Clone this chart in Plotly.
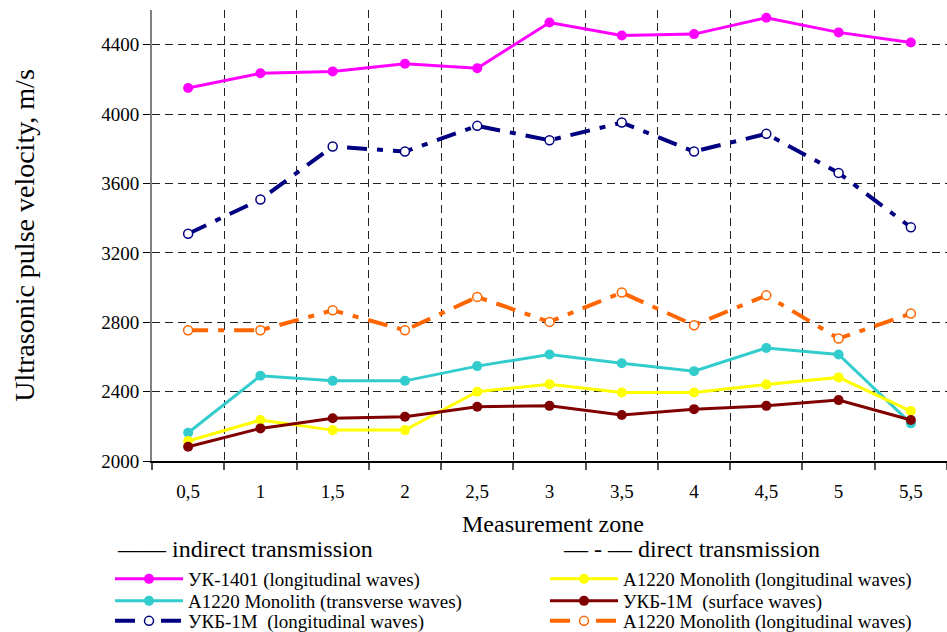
import plotly.graph_objects as go

zones = ["0,5", "1", "1,5", "2", "2,5", "3", "3,5", "4", "4,5", "5", "5,5"]

uk1401_long = [4150, 4235, 4246, 4290, 4264, 4528, 4453, 4461, 4555, 4471, 4413]
a1220_trans = [2163, 2491, 2462, 2462, 2547, 2614, 2564, 2518, 2652, 2614, 2217]
ukb1m_long = [3310, 3508, 3813, 3784, 3932, 3849, 3951, 3784, 3886, 3661, 3347]
a1220_long = [2115, 2236, 2178, 2178, 2399, 2443, 2395, 2395, 2441, 2482, 2288]
ukb1m_surf = [2082, 2188, 2246, 2255, 2313, 2318, 2265, 2299, 2318, 2351, 2236]
a1220_long_direct = [2754, 2754, 2869, 2754, 2946, 2802, 2971, 2783, 2955, 2706, 2850]

yticks = [2000, 2400, 2800, 3200, 3600, 4000, 4400]

FONT = "Liberation Serif"
DASH = "20px,10px,6px,10px"

series = [
    # name, values, color, direct?, legend
    ("УК-1401 (longitudinal waves)", uk1401_long, "#FF00FF", False, "legend"),
    ("A1220 Monolith (transverse waves)", a1220_trans, "#33CCCC", False, "legend2"),
    ("УКБ-1М  (longitudinal waves)", ukb1m_long, "#000080", True, "legend3"),
    ("A1220 Monolith (longitudinal waves)", a1220_long, "#FFFF00", False, "legend4"),
    ("УКБ-1М  (surface waves)", ukb1m_surf, "#800000", False, "legend5"),
    ("A1220 Monolith (longitudinal waves)", a1220_long_direct, "#FF6600", True, "legend6"),
]

fig = go.Figure()
for name, vals, col, direct, lg in series:
    if direct:
        line = dict(color=col, width=4, dash=DASH)
        marker = dict(symbol="circle", size=9, color="white", line=dict(color=col, width=1.5))
    else:
        line = dict(color=col, width=3)
        marker = dict(symbol="circle", size=10, color=col, line=dict(width=0))
    fig.add_trace(go.Scatter(x=zones, y=vals, name=name, mode="lines+markers",
                             line=line, marker=marker, legend=lg, showlegend=True))

H = 451.0
W = 795.0
def px_x(p):
    return (p - 152) / W
def px_y(p):
    return (461 - p) / H

leg_common = dict(xanchor="left", yanchor="middle", bgcolor="rgba(0,0,0,0)",
                  font=dict(family=FONT, size=19, color="black"), itemwidth=68,
                  borderwidth=0)
rows = [579, 601, 621]
layout_legends = {}
for i, lg in enumerate(["legend", "legend2", "legend3"]):
    layout_legends[lg] = dict(leg_common, x=px_x(110), y=px_y(rows[i]))
for i, lg in enumerate(["legend4", "legend5", "legend6"]):
    layout_legends[lg] = dict(leg_common, x=px_x(545), y=px_y(rows[i]))

fig.update_layout(
    width=947, height=632,
    margin=dict(l=152, r=0, t=10, b=171, autoexpand=False),
    paper_bgcolor="white", plot_bgcolor="white",
    font=dict(family=FONT, color="black"),
    xaxis=dict(type="category", range=[-0.5, 10.5], tickson="boundaries",
               showgrid=True, gridcolor="#222", gridwidth=1, griddash="8px,5px",
               showline=True, linecolor="black", linewidth=1.5,
               ticks="outside", ticklen=7, tickcolor="#555", tickwidth=1.5,
               tickfont=dict(family=FONT, size=19, color="black"),
               ticklabelstandoff=12, zeroline=False),
    yaxis=dict(range=[2000, 4600], tickvals=yticks,
               showgrid=True, gridcolor="#222", gridwidth=1, griddash="8px,5px",
               showline=True, linecolor="#808080", linewidth=2,
               ticks="outside", ticklen=7, tickcolor="black", tickwidth=1,
               tickfont=dict(family=FONT, size=19, color="black"),
               zeroline=False,
               title=dict(text="Ultrasonic pulse velocity, m/s",
                          font=dict(family=FONT, size=28, color="black"), standoff=58)),
    annotations=[
        dict(text="Measurement zone", xref="paper", yref="paper", x=px_x(553), y=px_y(524),
             xanchor="center", yanchor="middle", showarrow=False,
             font=dict(family=FONT, size=24, color="black")),
        dict(text="—— indirect transmission", xref="paper", yref="paper", x=px_x(115), y=px_y(549),
             xanchor="left", yanchor="middle", showarrow=False,
             font=dict(family=FONT, size=24, color="black")),
        dict(text="— - — direct transmission", xref="paper", yref="paper", x=px_x(561), y=px_y(549),
             xanchor="left", yanchor="middle", showarrow=False,
             font=dict(family=FONT, size=24, color="black")),
    ],
    **layout_legends,
)

fig.write_html("out.html")
